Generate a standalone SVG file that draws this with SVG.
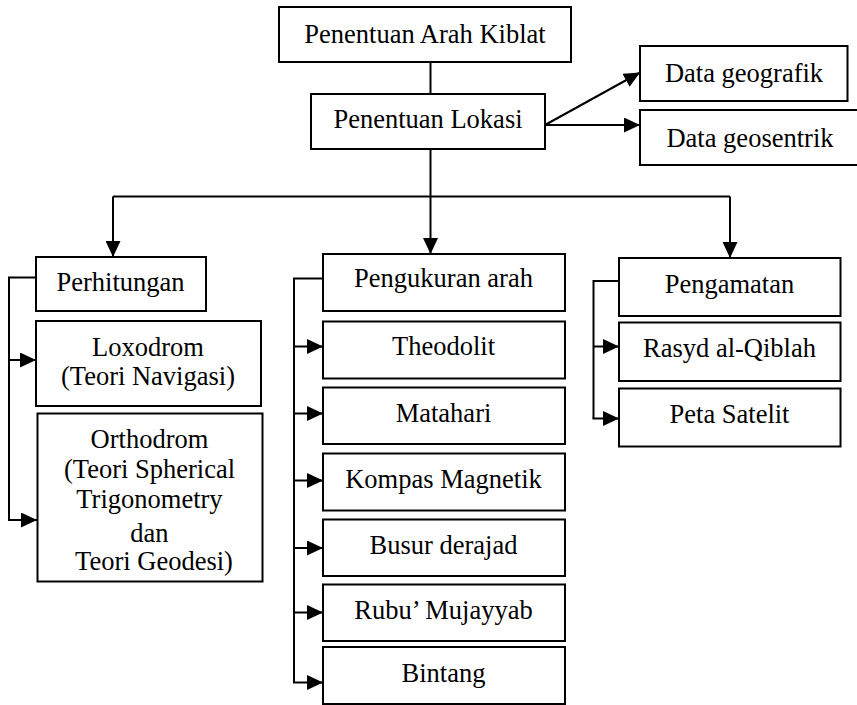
<svg xmlns="http://www.w3.org/2000/svg" width="857" height="705" viewBox="0 0 857 705">
<style>
.box{fill:#fff;stroke:#000;stroke-width:2}
.t{font-family:"Liberation Serif","Times New Roman",serif;font-size:26.5px;fill:#000;text-anchor:middle}
.ln{fill:none;stroke:#000;stroke-width:2}
.ar{fill:none;stroke:#000;stroke-width:2;marker-end:url(#ah)}
</style>
<defs>
<marker id="ah" markerUnits="userSpaceOnUse" markerWidth="16" markerHeight="15" refX="16" refY="7.5" orient="auto">
<path d="M0,0 L16,7.5 L0,15 z" fill="#000"/>
</marker>
</defs>
<rect width="857" height="705" fill="#fff"/>
<g id="connectors">
<line class="ln" x1="430.5" y1="62" x2="430.5" y2="94"/>
<line class="ar" x1="545" y1="125" x2="640" y2="72.5"/>
<line class="ar" x1="545" y1="125" x2="640" y2="125"/>
<line class="ar" x1="430.5" y1="149" x2="430.5" y2="254"/>
<polyline class="ln" points="113,196.5 730,196.5"/>
<line class="ar" x1="113" y1="196.5" x2="113" y2="257"/>
<line class="ar" x1="730" y1="196.5" x2="730" y2="258"/>
<polyline class="ln" points="36,277.5 9,277.5 9,520"/>
<line class="ar" x1="9" y1="360" x2="36" y2="360"/>
<line class="ar" x1="8" y1="520" x2="37" y2="520"/>
<polyline class="ln" points="323,278.5 294,278.5 294,682.5"/>
<line class="ar" x1="294" y1="346.5" x2="323" y2="346.5"/>
<line class="ar" x1="294" y1="413.5" x2="323" y2="413.5"/>
<line class="ar" x1="294" y1="480.5" x2="323" y2="480.5"/>
<line class="ar" x1="294" y1="548" x2="323" y2="548"/>
<line class="ar" x1="294" y1="612.5" x2="323" y2="612.5"/>
<line class="ar" x1="293" y1="682.5" x2="323" y2="682.5"/>
<polyline class="ln" points="619,281 593.5,281 593.5,418.5"/>
<line class="ar" x1="593.5" y1="346.5" x2="619" y2="346.5"/>
<line class="ar" x1="592.5" y1="418.5" x2="619" y2="418.5"/>
</g>
<g id="n-kiblat"><rect class="box" x="279" y="7" width="292" height="55"/><text class="t" x="425" y="43">Penentuan Arah Kiblat</text></g>
<g id="n-lokasi"><rect class="box" x="311" y="94" width="234" height="55"/><text class="t" x="428" y="128">Penentuan Lokasi</text></g>
<g id="n-geografik"><rect class="box" x="640" y="46" width="207.5" height="55"/><text class="t" x="744" y="81.5">Data geografik</text></g>
<g id="n-geosentrik"><rect class="box" x="640" y="110" width="222" height="55"/><text class="t" x="750" y="146.5">Data geosentrik</text></g>
<g id="n-perhitungan"><rect class="box" x="36" y="257" width="170" height="54"/><text class="t" x="120.5" y="291">Perhitungan</text></g>
<g id="n-loxodrom"><rect class="box" x="36" y="321" width="225" height="85"/><text class="t" x="148" y="355.5">Loxodrom</text><text class="t" x="148" y="385">(Teori Navigasi)</text></g>
<g id="n-orthodrom"><rect class="box" x="37.5" y="413.5" width="225" height="168"/><text class="t" x="149.5" y="448">Orthodrom</text><text class="t" x="149.5" y="478">(Teori Spherical</text><text class="t" x="149.5" y="508">Trigonometry</text><text class="t" x="149.5" y="541.5">dan</text><text class="t" x="154" y="570"> Teori Geodesi)</text></g>
<g id="n-pengukuran"><rect class="box" x="323" y="254" width="242" height="57"/><text class="t" x="443.5" y="287">Pengukuran arah</text></g>
<g id="n-theodolit"><rect class="box" x="323" y="321.5" width="242" height="57"/><text class="t" x="443.5" y="355">Theodolit</text></g>
<g id="n-matahari"><rect class="box" x="323" y="387.5" width="242" height="56.5"/><text class="t" x="443.5" y="421.5">Matahari</text></g>
<g id="n-kompas"><rect class="box" x="323" y="453.5" width="242" height="57"/><text class="t" x="443.5" y="488">Kompas Magnetik</text></g>
<g id="n-busur"><rect class="box" x="323" y="519.5" width="242" height="56.5"/><text class="t" x="443.5" y="553.5">Busur derajad</text></g>
<g id="n-rubu"><rect class="box" x="323" y="584.5" width="242" height="56.5"/><text class="t" x="443.5" y="618.5">Rubu’ Mujayyab</text></g>
<g id="n-bintang"><rect class="box" x="323" y="647" width="242" height="57"/><text class="t" x="443.5" y="681.5">Bintang</text></g>
<g id="n-pengamatan"><rect class="box" x="619" y="258" width="221.5" height="58"/><text class="t" x="729.5" y="292.5">Pengamatan</text></g>
<g id="n-rasyd"><rect class="box" x="619" y="322.5" width="221.5" height="58.5"/><text class="t" x="729.5" y="356.5">Rasyd al-Qiblah</text></g>
<g id="n-peta"><rect class="box" x="619" y="388.5" width="221.5" height="58"/><text class="t" x="729.5" y="422.5">Peta Satelit</text></g>
</svg>
